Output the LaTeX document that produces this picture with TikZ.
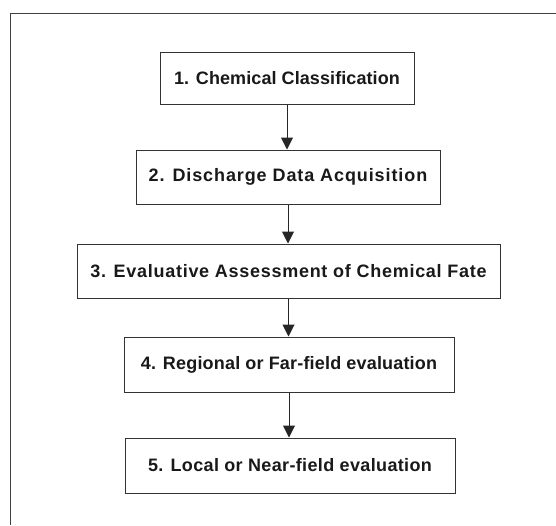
\documentclass[tikz,border=0pt]{standalone}
\usepackage{fontspec}
\setmainfont{Liberation Sans}
\usetikzlibrary{arrows.meta}
% letter-spaced bold label
\newcommand{\stagetext}[2]{{\addfontfeatures{LetterSpace=#1}#2}}
\begin{document}
\begin{tikzpicture}[x=1pt,y=-1pt,
  stage/.style={draw=black!80, line width=1pt, fill=white, inner sep=0pt,
    font=\fontsize{18}{20}\selectfont\bfseries, text=black!90},
  flow/.style={draw=black!85, line width=1pt, -{Triangle[width=12pt,length=12pt]}}]
  \useasboundingbox (0,0) rectangle (556,525);
  % open frame: top and left rules only
  \coordinate (frTR) at (556,13);
  \coordinate (frTL) at (10,13);
  \coordinate (frBL) at (10,525);
  \draw[black!75, line width=1pt] (frTR) -- (frTL) -- (frBL);
  % stages
  \node[stage, minimum width=254pt, minimum height=52pt] (s1) at (287,78)
    {\stagetext{0.5}{1. Chemical Classification}};
  \node[stage, minimum width=304pt, minimum height=54pt] (s2) at (288,177)
    {\stagetext{5}{2. Discharge Data Acquisition}};
  \node[stage, minimum width=423pt, minimum height=54pt] (s3) at (288.5,271)
    {\stagetext{4}{3. Evaluative Assessment of Chemical Fate}};
  \node[stage, minimum width=330pt, minimum height=55pt] (s4) at (289,364.5)
    {\stagetext{1}{4. Regional or Far-field evaluation}};
  \node[stage, minimum width=330pt, minimum height=55pt] (s5) at (290,465.5)
    {\stagetext{2}{5. Local or Near-field evaluation}};
  % connectors
  \draw[flow] (s1.south) -- (s1.south |- s2.north);
  \draw[flow] (s2.south) -- (s2.south |- s3.north);
  \draw[flow] (s3.south) -- (s3.south |- s4.north);
  \draw[flow] (s4.south) -- (s4.south |- s5.north);
\end{tikzpicture}
\end{document}
